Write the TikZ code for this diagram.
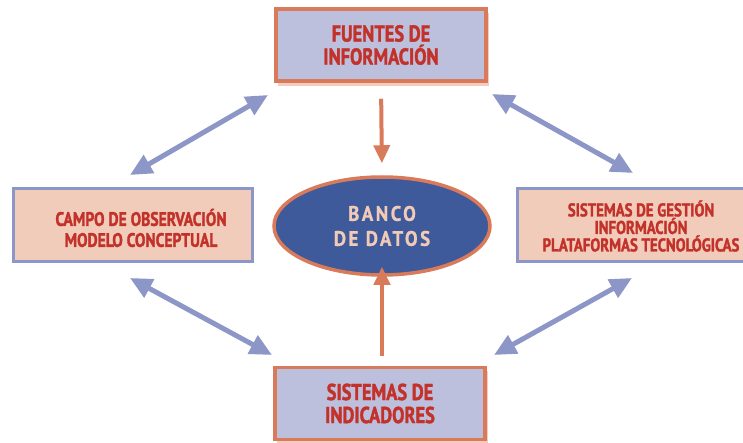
\documentclass[tikz,border=0pt]{standalone}
\usepackage{fontspec}
\usetikzlibrary{shapes.geometric,arrows.meta}
\newfontfamily\condfont{PT Sans Bold}[FakeStretch=0.8,FakeBold=1.6]
\newfontfamily\spacedfont{PT Sans Bold}[FakeStretch=0.9,LetterSpace=12,FakeBold=0.8]
\definecolor{lav}{HTML}{BDC0DC}
\definecolor{orng}{HTML}{D97A5B}
\definecolor{redtxt}{HTML}{C3322A}
\definecolor{peach}{HTML}{F2CCBB}
\definecolor{bluebd}{HTML}{8D97C7}
\definecolor{dbfill}{HTML}{3F5A9A}
\definecolor{dbtxt}{HTML}{F2CBB8}
\definecolor{shadowc}{HTML}{F5CDBE}
\tikzset{
  mainbox/.style={rectangle, draw=orng, line width=3.5pt, fill=lav, inner sep=0pt,
    minimum width=210pt, minimum height=72pt, align=center, text=redtxt,
    font=\condfont\fontsize{23}{23}\selectfont},
  sidebox/.style={rectangle, draw=bluebd, line width=3pt, fill=peach, inner sep=0pt,
    align=center, text=redtxt},
  dbnode/.style={ellipse, draw=orng, line width=3.5pt, fill=dbfill, inner sep=0pt,
    minimum width=216pt, minimum height=98pt, align=center, text=dbtxt,
    font=\spacedfont\fontsize{21}{25}\selectfont},
  bluearrow/.style={draw=bluebd, line width=5pt, {Triangle[length=22pt,width=20pt]}-{Triangle[length=22pt,width=20pt]}},
  orarrow/.style={draw=orng, line width=4pt, -{Triangle[length=18pt,width=16pt]}},
  shadowbox/.style={fill=shadowc, draw=none}
}
\begin{document}
\begin{tikzpicture}[x=1pt,y=-1pt]
\clip (0,0) rectangle (743,443);
% shadows
\fill[shadowc] (278,13) rectangle (489,86);
\fill[shadowc] (277,371) rectangle (488,443);
% boxes
\node[mainbox] (src) at (381,45) {FUENTES DE\\INFORMACIÓN};
\node[mainbox] (ind) at (380,403.5) {SISTEMAS DE\\INDICADORES};
\node[sidebox, minimum width=239pt, minimum height=73pt] (camp) at (132.5,225.5) {};
\node[text=redtxt, align=center, font=\condfont\fontsize{19.5}{21}\selectfont] (campt) at (141,228) {CAMPO DE OBSERVACIÓN\\MODELO CONCEPTUAL};
\node[sidebox, minimum width=253pt, minimum height=73pt] (sys) at (643.5,225.5) {};
\node[text=redtxt, align=center, font=\condfont\fontsize{18.5}{17.5}\selectfont] (syst) at (641,226) {SISTEMAS DE GESTIÓN\\INFORMACIÓN\\PLATAFORMAS TECNOLÓGICAS};
\node[dbnode] (db) at (382,226) {BANCO\\DE DATOS};
% orange arrows
\draw[orarrow, shorten <=16pt, shorten >=12pt] (src.south) -- (db.north);
\draw[orarrow, shorten <=10pt, shorten >=-10pt] (ind.north -| db.south) -- (db.south);
% blue arrows
\coordinate (a1s) at (268,95); \coordinate (a1e) at (130,175);
\coordinate (a2s) at (492,94); \coordinate (a2e) at (633,173);
\coordinate (a3s) at (130,278); \coordinate (a3e) at (272,355);
\coordinate (a4s) at (632,278); \coordinate (a4e) at (494,355);
\draw[bluearrow] (a1s) -- (a1e);
\draw[bluearrow] (a2s) -- (a2e);
\draw[bluearrow] (a3s) -- (a3e);
\draw[bluearrow] (a4s) -- (a4e);
\end{tikzpicture}
\end{document}
